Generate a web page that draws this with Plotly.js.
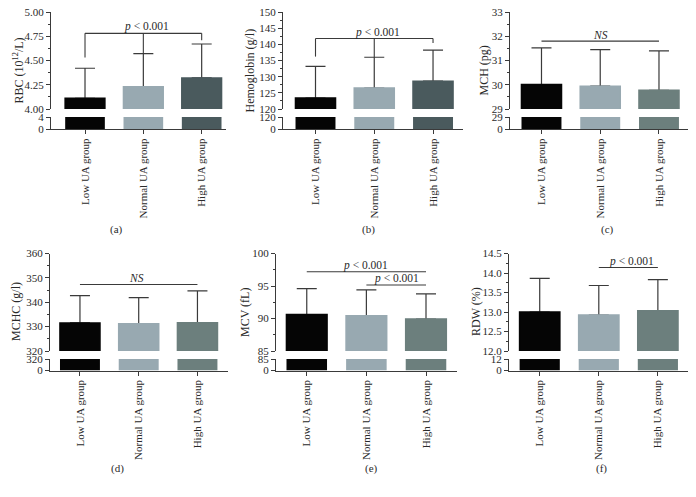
<!DOCTYPE html>
<html><head><meta charset="utf-8">
<script src="https://cdn.plot.ly/plotly-3.0.1.min.js"></script>
<style>html,body{margin:0;padding:0;background:#fff}#chart{width:696px;height:497px}</style>
</head><body><div id="chart"></div>
<script>
// ---- data ----
const groups = ["Low UA group", "Normal UA group", "High UA group"];

const rbcMean = [4.11, 4.23, 4.32];
const rbcSD   = [0.31, 0.34, 0.35];
const hbMean  = [123.4, 126.5, 128.6];
const hbSD    = [9.8, 9.5, 9.6];
const mchMean = [30.01, 29.94, 29.77];
const mchSD   = [1.51, 1.51, 1.63];
const mchcMean = [331.5, 331.2, 331.6];
const mchcSD   = [11.2, 10.7, 13.1];
const mcvMean = [90.6, 90.4, 89.9];
const mcvSD   = [4.0, 4.0, 3.9];
const rdwMean = [13.0, 12.92, 13.03];
const rdwSD   = [0.86, 0.76, 0.80];

// axis break values and upper ranges
const breaks = [4, 120, 29, 320, 85, 12];
const upperTop = [5, 150, 33, 360, 100, 14.5];
const upperDtick = [0.25, 5, 1, 10, 5, 0.5];
const upperFormat = [".2f", "d", "d", "d", "d", ".1f"];

const yTitles = ["RBC (10<sup>12</sup>/L)", "Hemoglobin (g/l)", "MCH (pg)", "MCHC (g/l)", "MCV (fL)", "RDW (%)"];
const panelLetters = ["(a)", "(b)", "(c)", "(d)", "(e)", "(f)"];

// significance annotations
const sigText = ["<i>p</i> &lt; 0.001", "<i>NS</i>"];
const sigA = {level: 4.78, legs: [4.53, 4.57, 4.71]};
const sigB = {level: 141.8, legs: [136.2, 136.0, 140.4]};
const sigC = {level: 31.8};
const sigD = {level: 347.3};
const sigE1 = {level: 97.2};
const sigE2 = {level: 95.15};
const sigF = {level: 14.14};

const colorsDark  = ["#050505", "#98a9b1", "#4a5a5d"];
const colorsGreen = ["#050505", "#98a9b1", "#6c7f7d"];

// ---- layout geometry (pixels) ----
const W = 696, H = 497;
const panels = [
  {mean: rbcMean, sd: rbcSD, colors: colorsDark, x0: 51, x1: 226, range: [-0.583, 2.417], row: 0, titleX: 18, letterX: 116},
  {mean: hbMean, sd: hbSD, colors: colorsDark, x0: 283, x1: 463, range: [-0.553, 2.51], row: 0, titleX: 250, letterX: 368},
  {mean: mchMean, sd: mchSD, colors: colorsGreen, x0: 510, x1: 688, range: [-0.536, 2.494], row: 0, titleX: 484, letterX: 607},
  {mean: mchcMean, sd: mchcSD, colors: colorsGreen, x0: 50, x1: 228, range: [-0.51, 2.52], row: 1, titleX: 16, letterX: 117},
  {mean: mcvMean, sd: mcvSD, colors: colorsGreen, x0: 276, x1: 457, range: [-0.516, 2.52], row: 1, titleX: 245, letterX: 371},
  {mean: rdwMean, sd: rdwSD, colors: colorsGreen, x0: 509, x1: 688, range: [-0.52, 2.51], row: 1, titleX: 476, letterX: 601}
];
const rows = [
  {upper: [12, 109], lower: [117, 129], letterY: 230},
  {upper: [253.5, 351], lower: [359, 370.5], letterY: 468}
];
const fy = px => 1 - px / H;
const fx = px => px / W;

const FONT = "Liberation Serif, Times New Roman, serif";
const INK = "#2a2a2a";
const LINE = "#3a3a3a";

const data = [];
const layout = {
  width: W, height: H,
  margin: {l: 0, r: 0, t: 0, b: 0},
  paper_bgcolor: "#fff", plot_bgcolor: "rgba(0,0,0,0)",
  showlegend: false, bargap: 0.32,
  font: {family: FONT, size: 11, color: INK},
  annotations: [], shapes: []
};

panels.forEach((p, i) => {
  const n = i + 1;
  const xName = n === 1 ? "x" : "x" + n;
  const uNum = 2 * i + 1, lNum = 2 * i + 2, oNum = 13 + i;
  const uName = uNum === 1 ? "y" : "y" + uNum;
  const lName = "y" + lNum;
  const oName = "y" + oNum;
  const r = rows[p.row];

  // whiskers (drawn underneath the bars)
  data.push({
    type: "bar", x: groups, y: p.mean, xaxis: xName, yaxis: uName,
    marker: {color: "rgba(0,0,0,0)", line: {width: 0}},
    error_y: {type: "data", symmetric: false, array: p.sd, arrayminus: p.sd.map(() => 0),
              color: LINE, thickness: 1.2, width: 10},
    hoverinfo: "skip"
  });
  // visible upper bars on an overlaid axis
  data.push({
    type: "bar", x: groups, y: p.mean, xaxis: xName, yaxis: oName,
    marker: {color: p.colors, line: {width: 1.6, color: p.colors}}, hoverinfo: "skip"
  });
  // lower segment bars
  data.push({
    type: "bar", x: groups, y: p.mean, xaxis: xName, yaxis: lName,
    marker: {color: p.colors, line: {width: 0}}, hoverinfo: "skip"
  });

  layout[n === 1 ? "xaxis" : "xaxis" + n] = {
    domain: [fx(p.x0), fx(p.x1)], anchor: lName, type: "category",
    range: p.range, showline: true, linecolor: LINE, linewidth: 1,
    ticks: "outside", ticklen: 4, tickcolor: LINE, tickangle: -90,
    tickfont: {family: FONT, size: 11, color: INK}, showgrid: false, zeroline: false, fixedrange: true
  };
  layout[uNum === 1 ? "yaxis" : "yaxis" + uNum] = {
    domain: [fy(r.upper[1]), fy(r.upper[0])], anchor: xName,
    range: [breaks[i], upperTop[i]], tick0: breaks[i], dtick: upperDtick[i], tickformat: upperFormat[i],
    showline: true, linecolor: LINE, linewidth: 1, ticks: "outside", ticklen: 4, tickcolor: LINE,
    minor: {ticks: "outside", ticklen: 2, dtick: upperDtick[i] / 2, tickcolor: LINE, showgrid: false},
    tickfont: {family: FONT, size: 11, color: INK}, showgrid: false, zeroline: false, fixedrange: true
  };
  layout["yaxis" + oNum] = {
    overlaying: uName, anchor: xName, range: [breaks[i], upperTop[i]],
    visible: false, showgrid: false, zeroline: false, fixedrange: true
  };
  layout["yaxis" + lNum] = {
    domain: [fy(r.lower[1]), fy(r.lower[0])], anchor: xName,
    range: [0, breaks[i]], tickmode: "array", tickvals: [0, breaks[i]], ticktext: ["0", String(breaks[i])],
    showline: true, linecolor: LINE, linewidth: 1, ticks: "outside", ticklen: 4, tickcolor: LINE,
    tickfont: {family: FONT, size: 11, color: INK}, showgrid: false, zeroline: false, fixedrange: true
  };

  layout.annotations.push({
    xref: "paper", yref: "paper", x: fx(p.titleX), y: fy((r.upper[0] + r.lower[1]) / 2),
    text: yTitles[i], textangle: -90, showarrow: false, xanchor: "center", yanchor: "middle",
    font: {family: FONT, size: 12, color: INK}
  });
  layout.annotations.push({
    xref: "paper", yref: "paper", x: fx(p.letterX), y: fy(r.letterY),
    text: panelLetters[i], showarrow: false, xanchor: "center", yanchor: "middle",
    font: {family: FONT, size: 11, color: INK}
  });
});

function hline(xa, ya, x0, x1, y) {
  layout.shapes.push({type: "line", xref: xa, yref: ya, x0: x0, x1: x1, y0: y, y1: y, line: {color: LINE, width: 1.1}});
}
function vline(xa, ya, x, y0, y1) {
  layout.shapes.push({type: "line", xref: xa, yref: ya, x0: x, x1: x, y0: y0, y1: y1, line: {color: LINE, width: 1.1}});
}
function sigLabel(xa, ya, x, y, text) {
  layout.annotations.push({xref: xa, yref: ya, x: x, y: y, text: text, showarrow: false,
    xanchor: "center", yanchor: "bottom", yshift: -2, font: {family: FONT, size: 11.5, color: INK}});
}

// (a)
hline("x", "y", 0, 2, sigA.level);
vline("x", "y", 0, sigA.level, sigA.legs[0]);
vline("x", "y", 1, sigA.level, sigA.legs[1]);
vline("x", "y", 2, sigA.level, sigA.legs[2]);
sigLabel("x", "y", 1.05, sigA.level, sigText[0]);
// (b)
hline("x2", "y3", 0, 2, sigB.level);
vline("x2", "y3", 0, sigB.level, sigB.legs[0]);
vline("x2", "y3", 1, sigB.level, sigB.legs[1]);
vline("x2", "y3", 2, sigB.level, sigB.legs[2]);
sigLabel("x2", "y3", 1.05, sigB.level, sigText[0]);
// (c)
hline("x3", "y5", 0, 2, sigC.level);
sigLabel("x3", "y5", 1.0, sigC.level, sigText[1]);
// (d)
hline("x4", "y7", 0, 2, sigD.level);
sigLabel("x4", "y7", 0.97, sigD.level, sigText[1]);
// (e)
hline("x5", "y9", 0, 2, sigE1.level);
sigLabel("x5", "y9", 0.98, sigE1.level, sigText[0]);
hline("x5", "y9", 1, 2, sigE2.level);
sigLabel("x5", "y9", 1.5, sigE2.level, sigText[0]);
// (f)
hline("x6", "y11", 1, 2, sigF.level);
sigLabel("x6", "y11", 1.55, sigF.level, sigText[0]);

Plotly.newPlot("chart", data, layout, {staticPlot: true, displayModeBar: false});
</script>
</body></html>
